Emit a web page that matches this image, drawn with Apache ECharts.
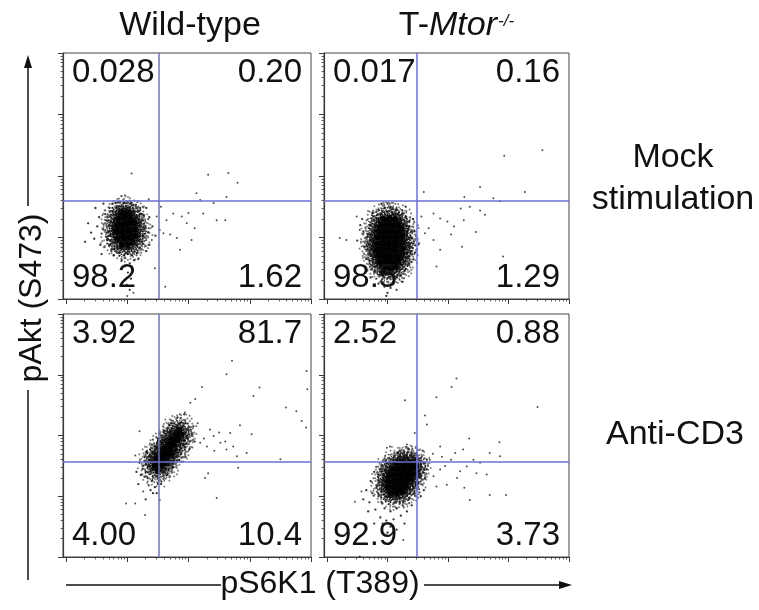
<!DOCTYPE html>
<html><head><meta charset="utf-8">
<script src="https://cdn.jsdelivr.net/npm/echarts@6/dist/echarts.min.js"></script>
<style>html,body{margin:0;padding:0;background:#fff}#c{width:759px;height:610px}</style>
</head><body><div id="c"></div>
<script>
// ---------- labels ----------
const columnTitles = ['Wild-type', 'T-Mtor'];
const columnSuperscript = '-/-';
const rowTitles = ['Mock\nstimulation', 'Anti-CD3'];
const xAxisTitle = 'pS6K1 (T389)';
const yAxisTitle = 'pAkt (S473)';

// quadrant percentages: [upper-left, upper-right, lower-left, lower-right]
const quadWtMock = ['0.028', '0.20', '98.2', '1.62'];
const quadKoMock = ['0.017', '0.16', '98.5', '1.29'];
const quadWtCD3  = ['3.92', '81.7', '4.00', '10.4'];
const quadKoCD3  = ['2.52', '0.88', '92.9', '3.73'];

// gate positions (log10 intensity) per panel: TL, TR, BL, BR
const gateX = [2.51, 2.49, 2.51, 2.49];
const gateY = [2.59, 2.59, 2.56, 2.56];

// axis extents (log10 intensity)
const xRange = [0.95, 5];
const yRange = [1, 5];
const decadeTicks = [1, 2, 3, 4, 5];
const minorMultipliers = [2, 3, 4, 5, 6, 7, 8, 9];

// ---------- events (log10 pS6K1, log10 pAkt) ----------
// Wild-type, mock
const wtMockCore = [[1.91,1.88],[2.01,1.88],[2.08,1.93],[1.84,1.98],[1.94,2.0],[2.04,2.0],[2.13,2.03],
  [1.82,2.1],[1.92,2.1],[2.02,2.11],[2.12,2.13],[1.83,2.21],[1.93,2.21],[2.03,2.23],[2.11,2.25],
  [1.86,2.31],[1.96,2.33],[2.05,2.33],[1.92,2.41],[2.01,2.41]];
const wtMockHalo = [[1.61,2.13],[1.66,2.28],[1.68,1.98],[1.64,2.38],[1.71,2.48],[1.72,1.88],[1.76,2.55],[1.74,1.78],
  [1.81,2.56],[1.86,2.57],[1.96,2.56],[2.06,2.56],[2.14,2.53],[2.21,2.48],[2.24,2.38],[2.26,2.28],[2.28,2.15],[2.26,2.03],
  [2.24,1.93],[2.21,1.83],[2.16,1.75],[2.08,1.71],[2.01,1.73],[1.94,1.71],[1.86,1.75],[1.78,1.81],[1.51,2.18],[1.46,1.98],
  [1.54,2.33],[1.56,1.88],[1.41,2.08],[1.36,2.23],[1.48,2.48],[1.58,1.73],[2.36,2.33],[2.34,2.08],[2.36,1.88],[2.41,2.18],
  [2.31,2.48],[2.11,1.63],[2.04,1.58],[1.96,1.53],[2.01,1.43],[2.06,1.33],[1.99,1.23],[2.04,1.15],[1.91,1.63],[2.18,1.65],
  [1.66,2.08],[1.76,2.43],[2.18,2.43],[1.78,1.71],[2.31,1.78],[1.61,2.55],[2.46,2.03],[1.31,1.93]];
const wtMockSparse = [[2.07,3.04],[3.13,2.72],[3.32,3.02],[3.65,3.05],[3.80,2.89],[3.62,2.66],[3.41,2.56],[3.19,2.61],
  [2.75,2.39],[2.89,2.34],[2.64,2.28],[2.97,2.23],[3.24,2.39],[3.46,2.28],[3.60,2.28],[2.59,2.07],[2.81,1.99],[3.05,1.96],
  [2.86,1.80],[2.48,2.34],[2.53,2.12],[2.40,1.96],[2.62,1.20],[2.7,2.05],[3.0,2.4],[3.1,2.15],[2.45,1.5],
  [2.55,2.5],[2.35,2.62],[2.0,1.05],[2.1,1.1]];

// T-Mtor-/-, mock
const koMockCore = [[1.95,1.5],[2.05,1.5],[2.13,1.52],[1.88,1.6],[1.98,1.6],[2.08,1.6],[2.18,1.62],
  [1.84,1.7],[1.94,1.7],[2.04,1.7],[2.14,1.7],[2.24,1.72],[1.82,1.8],[1.92,1.8],[2.02,1.8],[2.12,1.8],[2.24,1.82],
  [1.82,1.9],[1.92,1.9],[2.02,1.9],[2.12,1.9],[2.24,1.92],[1.83,2.0],[1.93,2.0],[2.03,2.0],[2.13,2.0],[2.23,2.02],
  [1.85,2.1],[1.95,2.1],[2.05,2.1],[2.15,2.1],[2.23,2.12],[1.88,2.2],[1.98,2.2],[2.08,2.2],[2.18,2.2],
  [1.93,2.3],[2.03,2.3],[2.13,2.3]];
const koMockHalo = [[1.7,1.9],[1.68,2.05],[1.72,2.2],[1.7,1.75],[1.75,1.6],[1.78,1.45],[1.8,2.32],[1.75,2.4],[1.85,2.45],
  [1.95,2.48],[2.05,2.5],[2.15,2.45],[2.25,2.4],[2.32,2.3],[2.35,2.15],[2.38,2.0],[2.36,1.85],[2.35,1.7],[2.33,1.55],
  [2.28,1.45],[2.22,1.38],[2.15,1.35],[2.05,1.32],[1.95,1.35],[1.88,1.4],[1.85,1.25],[1.95,1.2],[2.05,1.18],[2.0,1.1],
  [2.1,1.25],[1.9,1.3],[1.6,2.1],[1.62,1.85],[1.58,2.3],[1.65,1.65],[2.42,1.9],[2.44,2.1],[2.42,2.3],[2.4,1.6],
  [2.45,1.75],[1.5,1.95],[1.55,2.2],[2.0,2.55],[1.9,2.55],[2.3,2.5],[1.72,1.35],[2.25,1.28],[2.15,1.15],[1.98,1.05]];
const koMockSparse = [[3.93,3.33],[4.56,3.42],[2.60,2.74],[3.53,2.82],[4.27,2.74],[3.27,2.66],[3.75,2.64],[3.86,2.59],
  [3.21,2.47],[3.36,2.50],[3.53,2.44],[3.61,2.37],[2.76,2.39],[2.87,2.31],[2.99,2.26],[3.10,2.18],[3.26,2.28],[3.46,2.09],
  [2.62,2.07],[2.56,2.34],[2.76,1.96],[2.87,1.80],[3.23,1.85],[3.91,1.69],[2.81,1.53],[1.21,1.99],[1.32,1.96],[1.49,2.34],
  [1.54,2.12],[2.5,2.2],[2.52,1.9],[2.68,2.15],[3.05,2.05]];

// Wild-type, anti-CD3
const wtCD3Core = [[2.45,2.5],[2.52,2.55],[2.47,2.62],[2.58,2.62],[2.55,2.7],[2.64,2.7],[2.6,2.78],[2.7,2.78],
  [2.67,2.86],[2.76,2.86],[2.73,2.94],[2.82,2.94],[2.8,3.02],[2.88,3.02],[2.58,2.52],[2.72,2.7],[2.5,2.42],[2.85,3.1]];
const wtCD3Halo = [[2.3,2.4],[2.33,2.3],[2.4,2.25],[2.5,2.3],[2.6,2.4],[2.68,2.55],[2.75,2.65],[2.85,2.75],[2.92,2.85],
  [2.98,2.95],[3.0,3.1],[2.95,3.2],[2.88,3.22],[2.8,3.15],[2.7,3.05],[2.62,2.95],[2.55,2.88],[2.48,2.8],[2.42,2.7],
  [2.36,2.6],[2.3,2.52],[2.25,2.45],[2.28,2.32],[2.35,2.18],[2.45,2.15],[2.42,2.05],[2.5,2.2],[2.38,2.1],[2.22,2.35],
  [2.2,2.55],[2.32,2.72],[2.4,2.85],[2.5,2.95],[2.6,3.08],[2.72,3.2],[2.82,3.3],[3.05,3.0],[3.1,2.9],[3.02,2.78],
  [2.95,2.65],[2.85,2.6],[2.75,2.48],[2.65,2.35],[2.55,2.2],[2.48,2.05],[2.15,2.4],[2.18,2.2],[2.3,1.95],[3.08,3.15],[2.93,3.35]];
const wtCD3Sparse = [[3.71,4.23],[3.62,4.01],[3.22,3.80],[3.11,3.60],[4.16,3.79],[4.06,3.65],[4.59,3.46],[4.76,3.40],
  [4.85,3.24],[4.92,3.13],[4.94,3.76],[4.93,4.06],[3.84,3.17],[4.03,3.02],[3.68,3.04],[3.41,2.99],[3.52,2.88],[3.73,2.82],
  [3.30,2.82],[3.19,2.88],[3.95,2.71],[3.79,2.66],[3.62,2.77],[3.27,2.30],[3.32,2.38],[3.46,1.97],[3.81,2.47],[4.50,2.61],
  [2.20,3.07],[2.13,2.67],[2.26,2.08],[1.98,1.88],[2.13,1.88],[2.29,1.69],[2.53,1.94],[2.86,3.35],[2.94,3.38],[3.03,3.54],
  [3.35,3.1],[3.5,3.05],[3.25,2.95],[3.15,3.2],[3.6,2.9],[3.42,2.75]];

// T-Mtor-/-, anti-CD3
const koCD3Core = [[2.05,2.05],[2.15,2.05],[2.25,2.08],[2.0,2.15],[2.1,2.15],[2.2,2.15],[2.3,2.17],
  [2.0,2.25],[2.1,2.25],[2.2,2.25],[2.3,2.25],[2.38,2.28],[2.03,2.35],[2.13,2.35],[2.23,2.35],[2.33,2.35],[2.41,2.38],
  [2.08,2.45],[2.18,2.45],[2.28,2.45],[2.38,2.45],[2.43,2.48],[2.15,2.54],[2.25,2.55],[2.35,2.55],[2.42,2.55]];
const koCD3Halo = [[1.85,2.3],[1.82,2.15],[1.85,2.0],[1.9,1.9],[1.95,1.8],[2.05,1.75],[2.15,1.8],[2.25,1.85],[2.35,1.95],
  [2.45,2.05],[2.5,2.2],[2.52,2.35],[2.55,2.5],[2.55,2.62],[2.48,2.68],[2.4,2.7],[2.3,2.68],[2.2,2.65],[2.1,2.6],
  [2.0,2.55],[1.92,2.45],[1.78,2.4],[1.75,2.05],[1.72,2.25],[1.7,1.9],[1.8,1.78],[1.88,1.65],[1.98,1.6],[2.1,1.62],
  [2.05,1.5],[2.15,1.45],[2.0,1.4],[2.1,1.32],[1.92,1.55],[2.22,1.68],[2.32,1.75],[2.6,2.45],[2.62,2.3],[2.58,2.75],
  [2.35,2.78],[2.2,2.75],[1.65,2.1],[1.6,1.95],[1.68,1.75],[2.4,1.85],[2.55,2.0],[1.95,2.62],[2.65,2.6],[2.6,2.1],
  [1.78,1.55],[2.28,1.55]];
const koCD3Sparse = [[3.14,3.94],[3.06,3.80],[2.81,3.63],[2.29,3.58],[4.48,3.47],[2.62,3.33],[2.65,3.18],[3.35,2.95],
  [3.85,2.89],[2.87,2.82],[3.12,2.71],[3.25,2.77],[3.69,2.71],[3.86,2.66],[3.42,2.60],[3.53,2.55],[3.31,2.49],[3.20,2.41],
  [3.47,2.38],[3.64,2.36],[2.87,2.44],[2.76,2.33],[2.81,2.16],[2.98,2.19],[3.27,2.14],[3.36,1.94],[3.69,2.02],[3.96,2.02],
  [1.46,1.91],[1.57,2.08],[2.04,2.82],[1.99,2.80],[2.32,2.85],[2.45,3.04],[2.26,1.28],[1.54,1.01],[2.7,2.6],[2.95,2.5],
  [3.05,2.6],[2.75,2.7],[3.15,2.3],[2.65,2.45],[2.9,2.65]];

// ---------- assembly ----------
const panels = [
  { core: wtMockCore, halo: wtMockHalo, sparse: wtMockSparse, quad: quadWtMock },
  { core: koMockCore, halo: koMockHalo, sparse: koMockSparse, quad: quadKoMock },
  { core: wtCD3Core,  halo: wtCD3Halo,  sparse: wtCD3Sparse,  quad: quadWtCD3 },
  { core: koCD3Core,  halo: koCD3Halo,  sparse: koCD3Sparse,  quad: quadKoCD3 }
];
const grids = [
  { left: 63,  top: 53,  width: 248, height: 246 },
  { left: 324, top: 53,  width: 245, height: 246 },
  { left: 63,  top: 314, width: 248, height: 243 },
  { left: 324, top: 314, width: 245, height: 243 }
];
const minorTicks = [];
decadeTicks.slice(0, -1).forEach(d => minorMultipliers.forEach(m => minorTicks.push(d + Math.log10(m))));

// stipple symbol: a speckle texture used to draw dense event clouds
const stippleDots = [[13,1],[18,2],[9,3],[15,4],[21,3],[6,6],[12,6],[18,6],[24,6],[3,9],[9,8],[15,9],[21,8],[27,9],
  [6,11],[12,12],[18,11],[24,12],[0,15],[4,14],[9,15],[15,14],[21,15],[26,14],[30,15],[6,17],[12,18],[18,17],[24,18],
  [3,21],[9,20],[15,21],[21,20],[27,21],[6,23],[12,24],[18,23],[24,24],[9,26],[15,27],[21,26],[12,29],[15,30],[18,29],
  [11,10],[17,13],[13,16],[19,19],[10,21],[16,24],[20,10],[7,13],[23,16],[14,19],[17,7],[10,4]];
const STIPPLE = 'path://' + stippleDots.map(d => 'M' + d[0] + ' ' + d[1] + 'h1.5v1.5h-1.5z').join('');

const FONT = '"Liberation Sans", Arial, Helvetica, sans-serif';
const AX = '#3a3a3a';
const GATE = '#6c6fd6';

const xAxes = [], yAxes = [], series = [], graphics = [];
grids.forEach((g, i) => {
  const base = { type: 'value', gridIndex: i, axisLabel: { show: false }, splitLine: { show: false } };
  xAxes.push(Object.assign({}, base, { min: xRange[0], max: xRange[1], position: 'bottom',
    axisLine: { show: true, lineStyle: { color: AX, width: 1.2 } },
    axisTick: { show: true, length: 5, customValues: decadeTicks, lineStyle: { color: AX, width: 1 } } }));
  xAxes.push(Object.assign({}, base, { min: xRange[0], max: xRange[1], position: 'bottom',
    axisLine: { show: false },
    axisTick: { show: true, length: 2.5, customValues: minorTicks, lineStyle: { color: AX, width: 0.8 } } }));
  yAxes.push(Object.assign({}, base, { min: yRange[0], max: yRange[1], position: 'left',
    axisLine: { show: true, lineStyle: { color: AX, width: 1.2 } },
    axisTick: { show: true, length: 5, customValues: decadeTicks, lineStyle: { color: AX, width: 1 } } }));
  yAxes.push(Object.assign({}, base, { min: yRange[0], max: yRange[1], position: 'left',
    axisLine: { show: false },
    axisTick: { show: true, length: 2.5, customValues: minorTicks, lineStyle: { color: AX, width: 0.8 } } }));
  const p = panels[i];
  const ax = { xAxisIndex: 2 * i, yAxisIndex: 2 * i, animation: false, silent: true };
  series.push(Object.assign({ type: 'scatter', data: p.halo, symbolSize: 2.3, z: 2,
    itemStyle: { color: '#111', opacity: 0.85 } }, ax));
  series.push(Object.assign({ type: 'scatter', data: p.core, symbol: STIPPLE, symbolSize: 36, z: 2,
    symbolRotate: (v, params) => (params.dataIndex * 29 + 10) % 360,
    itemStyle: { color: '#222', opacity: 0.6 } }, ax));
  series.push(Object.assign({ type: 'scatter', data: p.core, symbol: STIPPLE, symbolSize: 25, z: 2,
    symbolRotate: (v, params) => (params.dataIndex * 47) % 360,
    itemStyle: { color: '#111', opacity: 0.9 } }, ax));
  series.push(Object.assign({ type: 'scatter', data: p.core, symbol: STIPPLE, symbolSize: 16, z: 2,
    symbolRotate: (v, params) => (params.dataIndex * 71 + 20) % 360,
    itemStyle: { color: '#000' } }, ax));
  series.push(Object.assign({ type: 'scatter', data: p.core, symbolSize: 6, z: 3,
    itemStyle: { color: '#000' } }, ax));
  series.push(Object.assign({ type: 'scatter', data: p.sparse, symbolSize: 2, z: 4,
    itemStyle: { color: '#222', opacity: 0.8 },
    markLine: { silent: true, symbol: ['none', 'none'], animation: false, label: { show: false },
      lineStyle: { color: GATE, width: 1.5, type: 'solid', opacity: 1 },
      emphasis: { disabled: true },
      data: [{ xAxis: gateX[i] }, { yAxis: gateY[i] }] } }, ax));
  // quadrant labels
  const fs = 33, padX = 9, padTop = 20, padBot = 21;
  const qpos = [
    [g.left + padX, g.top + padTop, 'left'],
    [g.left + g.width - padX, g.top + padTop, 'right'],
    [g.left + padX, g.top + g.height - padBot, 'left'],
    [g.left + g.width - padX, g.top + g.height - padBot, 'right']
  ];
  qpos.forEach((q, k) => graphics.push({ type: 'text', x: q[0], y: q[1], z: 10, silent: true,
    style: { text: p.quad[k], font: fs + 'px ' + FONT, fill: '#111', align: q[2], verticalAlign: 'middle' } }));
});

// column titles
graphics.push({ type: 'text', x: grids[0].left + grids[0].width / 2 + 3, y: 26, silent: true,
  style: { text: columnTitles[0], font: '34px ' + FONT, fill: '#111', align: 'center', verticalAlign: 'middle' } });
graphics.push({ type: 'text', x: 497, y: 26, silent: true,
  style: { text: '{n|T-}{i|Mtor}', align: 'right', verticalAlign: 'middle', fill: '#111',
    rich: { n: { fontSize: 34, fontFamily: FONT, fill: '#111' },
            i: { fontSize: 34, fontFamily: FONT, fontStyle: 'italic', fill: '#111' } } } });
graphics.push({ type: 'text', x: 498, y: 21, silent: true,
  style: { text: columnSuperscript, font: 'italic 17px ' + FONT, fill: '#111', align: 'left', verticalAlign: 'middle' } });
// row titles
graphics.push({ type: 'text', x: 673, y: 179, silent: true,
  style: { text: rowTitles[0], font: '34px ' + FONT, lineHeight: 42, fill: '#111', align: 'center', verticalAlign: 'middle' } });
graphics.push({ type: 'text', x: 675, y: 435, silent: true,
  style: { text: rowTitles[1], font: '34px ' + FONT, fill: '#111', align: 'center', verticalAlign: 'middle' } });
// axis titles with arrows
const xLabelY = 585, xLabelX = 320;
graphics.push({ type: 'text', x: xLabelX, y: xLabelY - 1, silent: true,
  style: { text: xAxisTitle, font: '32px ' + FONT, fill: '#111', align: 'center', verticalAlign: 'middle' } });
graphics.push({ type: 'line', silent: true, shape: { x1: 66, y1: xLabelY, x2: 221, y2: xLabelY }, style: { stroke: '#111', lineWidth: 1.5 } });
graphics.push({ type: 'line', silent: true, shape: { x1: 424, y1: xLabelY, x2: 562, y2: xLabelY }, style: { stroke: '#111', lineWidth: 1.5 } });
graphics.push({ type: 'polygon', silent: true, shape: { points: [[572, xLabelY], [559, xLabelY - 4], [559, xLabelY + 4]] }, style: { fill: '#111' } });
const yLabelX = 32, yLabelY = 298, yLineX = 28;
graphics.push({ type: 'text', x: yLabelX, y: yLabelY, rotation: Math.PI / 2, silent: true,
  style: { text: yAxisTitle, font: '32px ' + FONT, fill: '#111', align: 'center', verticalAlign: 'middle' } });
graphics.push({ type: 'line', silent: true, shape: { x1: yLineX, y1: 66, x2: yLineX, y2: 206 }, style: { stroke: '#111', lineWidth: 1.5 } });
graphics.push({ type: 'line', silent: true, shape: { x1: yLineX, y1: 390, x2: yLineX, y2: 580 }, style: { stroke: '#111', lineWidth: 1.5 } });
graphics.push({ type: 'polygon', silent: true, shape: { points: [[yLineX, 55], [yLineX - 4, 68], [yLineX + 4, 68]] }, style: { fill: '#111' } });

const chart = echarts.init(document.getElementById('c'), null, { renderer: 'canvas' });
chart.setOption({
  backgroundColor: '#fff',
  animation: false,
  grid: grids.map(g => Object.assign({ show: true, borderColor: '#444', borderWidth: 1, containLabel: false }, g)),
  xAxis: xAxes,
  yAxis: yAxes,
  series: series,
  graphic: graphics
});
</script></body></html>
